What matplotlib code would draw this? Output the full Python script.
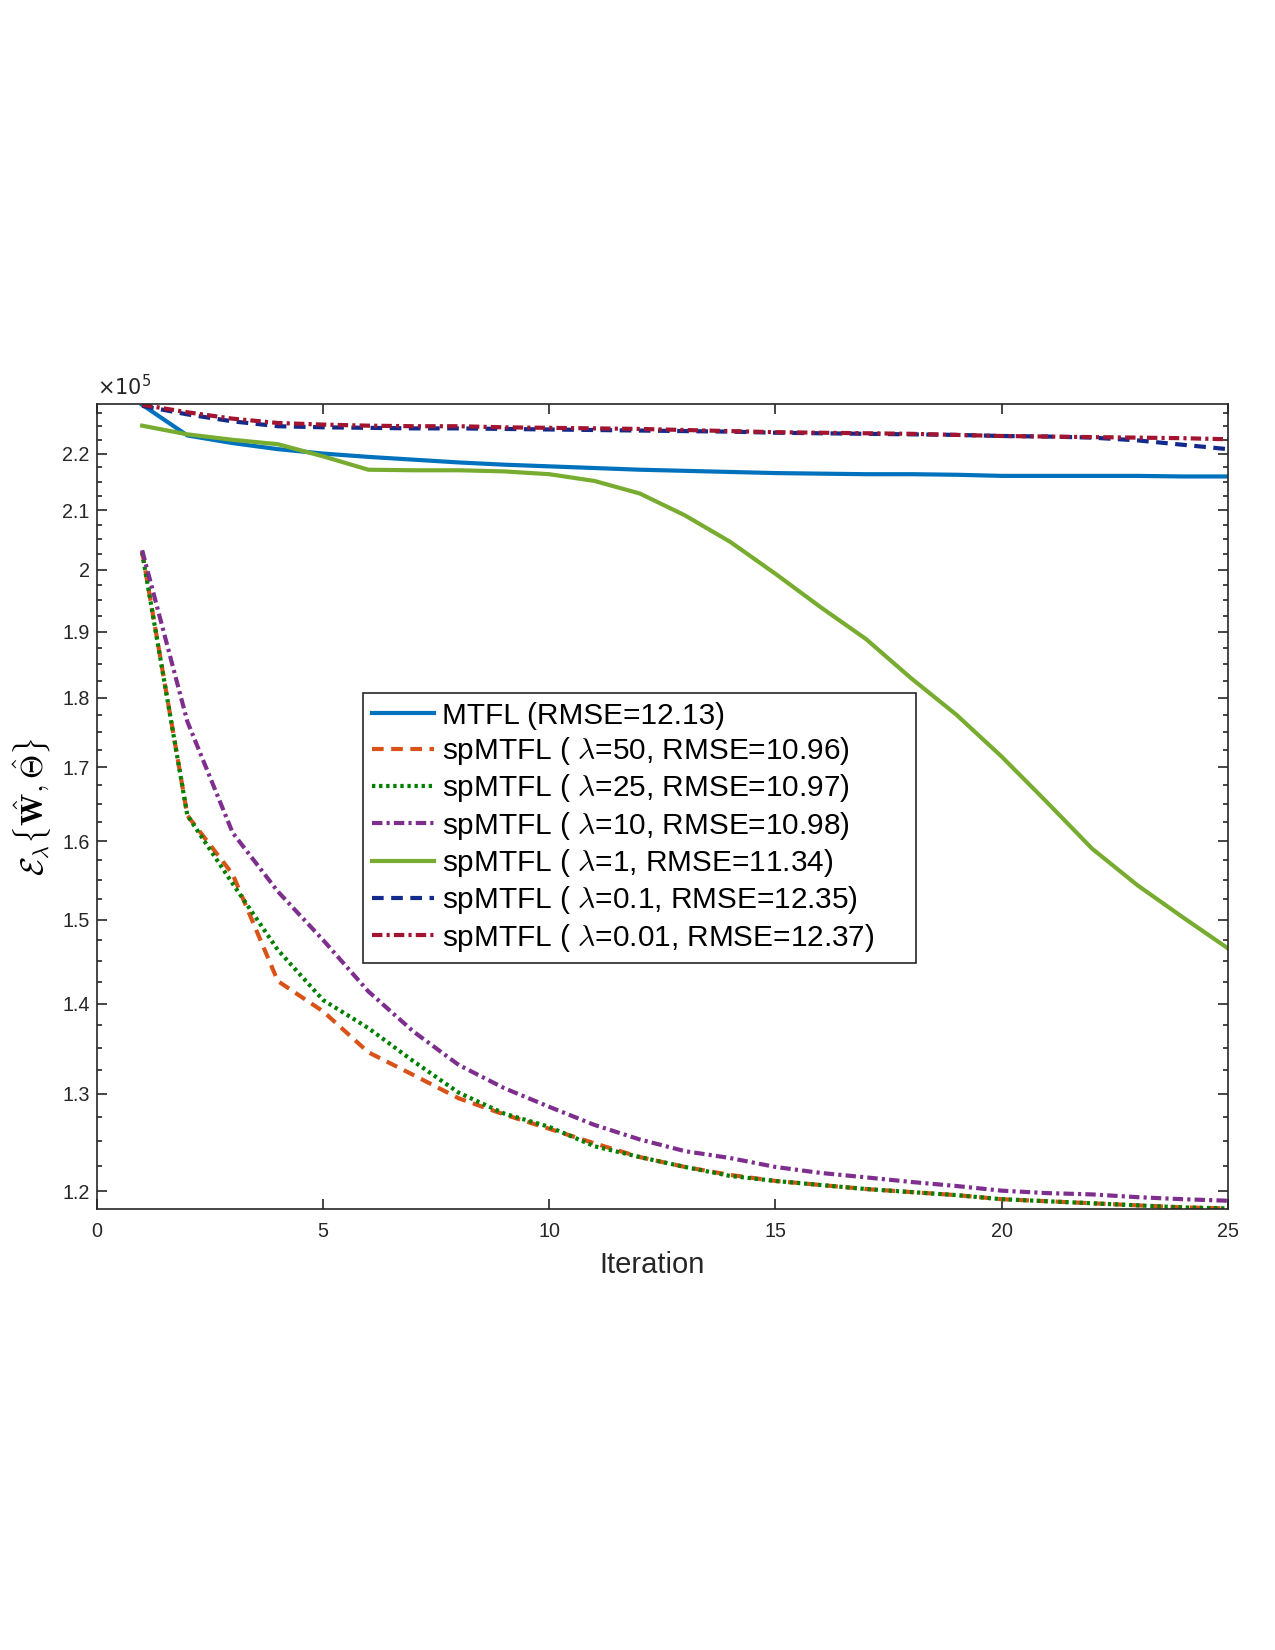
import numpy as np
import matplotlib
matplotlib.use("Agg")
import matplotlib.pyplot as plt
from matplotlib.ticker import FixedLocator, NullLocator, NullFormatter
from matplotlib.font_manager import FontProperties

plt.rcParams['font.family'] = ['Liberation Sans', 'DejaVu Sans']

# objective value per iteration, in units of 1e5
iters = np.arange(1, 26)

mtfl = [2.290, 2.233, 2.219, 2.208, 2.200, 2.194, 2.189, 2.184, 2.180, 2.177,
        2.174, 2.171, 2.169, 2.167, 2.165, 2.164, 2.163, 2.163, 2.162, 2.160,
        2.160, 2.160, 2.160, 2.159, 2.159]
lam50 = [2.030, 1.634, 1.557, 1.426, 1.391, 1.345, 1.320, 1.295, 1.278, 1.263,
         1.248, 1.234, 1.224, 1.216, 1.210, 1.206, 1.202, 1.199, 1.196, 1.192,
         1.190, 1.188, 1.186, 1.184, 1.183]
lam25 = [2.028, 1.634, 1.545, 1.463, 1.404, 1.372, 1.335, 1.301, 1.279, 1.265,
         1.245, 1.234, 1.224, 1.215, 1.210, 1.206, 1.202, 1.199, 1.196, 1.192,
         1.190, 1.188, 1.186, 1.184, 1.183]
lam10 = [2.032, 1.765, 1.611, 1.535, 1.475, 1.414, 1.368, 1.331, 1.306, 1.286,
         1.267, 1.252, 1.240, 1.233, 1.224, 1.218, 1.2136, 1.209, 1.205, 1.2004,
         1.198, 1.1967, 1.194, 1.192, 1.1905]
lam1 = [2.251, 2.235, 2.225, 2.217, 2.195, 2.171, 2.170, 2.170, 2.168, 2.163,
        2.151, 2.129, 2.091, 2.046, 1.993, 1.939, 1.889, 1.829, 1.775, 1.715,
        1.652, 1.590, 1.543, 1.503, 1.465]
lam01 = [2.288, 2.272, 2.259, 2.250, 2.248, 2.247, 2.246, 2.246, 2.245, 2.244,
         2.243, 2.242, 2.241, 2.240, 2.238, 2.237, 2.236, 2.235, 2.234, 2.232,
         2.231, 2.229, 2.224, 2.216, 2.208]
lam001 = [2.290, 2.276, 2.264, 2.256, 2.253, 2.251, 2.250, 2.250, 2.248, 2.247,
          2.246, 2.245, 2.243, 2.241, 2.239, 2.238, 2.237, 2.236, 2.234, 2.232,
          2.231, 2.230, 2.229, 2.228, 2.226]

labels = ['MTFL (RMSE=12.13)',
          r'spMTFL ( $\lambda$=50, RMSE=10.96)',
          r'spMTFL ( $\lambda$=25, RMSE=10.97)',
          r'spMTFL ( $\lambda$=10, RMSE=10.98)',
          r'spMTFL ( $\lambda$=1, RMSE=11.34)',
          r'spMTFL ( $\lambda$=0.1, RMSE=12.35)',
          r'spMTFL ( $\lambda$=0.01, RMSE=12.37)']

fig = plt.figure(figsize=(8.5, 11), dpi=150)
ax = fig.add_axes([0.076, 0.267, 0.887, 0.488])

lw = 2.0
ax.plot(iters, mtfl, color='#0072BD', lw=lw, label=labels[0])
ax.plot(iters, lam50, color='#D95319', lw=lw, dashes=(2.8, 1.8), label=labels[1])
ax.plot(iters, lam25, color='#008000', lw=lw, dashes=(0.8, 0.9), label=labels[2])
ax.plot(iters, lam10, color='#7E2F8E', lw=lw, dashes=(2.5, 1.0, 0.75, 1.0), label=labels[3])
ax.plot(iters, lam1, color='#77AC30', lw=lw, label=labels[4])
ax.plot(iters, lam01, color='#112A8C', lw=lw, dashes=(2.8, 1.8), label=labels[5])
ax.plot(iters, lam001, color='#A2142F', lw=lw, dashes=(2.5, 1.0, 0.75, 1.0), label=labels[6])

ax.set_yscale('log')
ax.set_xlim(0, 25)
ax.set_ylim(1.182, 2.291)

yt = [1.2, 1.3, 1.4, 1.5, 1.6, 1.7, 1.8, 1.9, 2.0, 2.1, 2.2]
ax.yaxis.set_major_locator(FixedLocator(yt))
ax.set_yticklabels(['1.2', '1.3', '1.4', '1.5', '1.6', '1.7', '1.8', '1.9', '2', '2.1', '2.2'])
ax.yaxis.set_minor_locator(FixedLocator(np.arange(1.2, 2.29, 0.025)))
ax.yaxis.set_minor_formatter(NullFormatter())
ax.set_xticks([0, 5, 10, 15, 20, 25])
ax.xaxis.set_minor_locator(NullLocator())

axc = '#262626'
for s in ax.spines.values():
    s.set_color(axc)
    s.set_linewidth(0.8)
ax.tick_params(which='both', direction='in', top=True, right=True, colors=axc,
               labelcolor='#262626', labelsize=9.5, width=0.8)
ax.tick_params(which='major', length=5)
ax.tick_params(which='minor', length=2.5)
ax.tick_params(axis='x', pad=6)

ax.set_xlabel('Iteration', fontsize=14, color='#262626', labelpad=4)
ax.xaxis.set_label_coords(0.491, -0.052)
ax.set_ylabel(r'$\mathcal{E}_\lambda\{\hat{\mathbf{W}},\hat{\boldsymbol{\Theta}}\}$',
              fontsize=15, math_fontfamily='cm', labelpad=4)
ax.text(0.0, 1.006, r'$\times10^{5}$', transform=ax.transAxes, fontsize=10,
        color='#262626', ha='left', va='bottom')

legfont = FontProperties(family=['Liberation Sans', 'DejaVu Sans'], size=14.3,
                         math_fontfamily='cm')
leg = ax.legend(loc='upper left', bbox_to_anchor=(0.2847, 0.30, 0.434, 0.2802),
                bbox_transform=fig.transFigure, mode='expand', prop=legfont,
                frameon=True, fancybox=False, framealpha=1, edgecolor='#262626',
                handlelength=2.1, handletextpad=0.26, labelspacing=0.18,
                borderpad=0.3, borderaxespad=0)
leg.get_frame().set_linewidth(0.8)

fig.savefig('out.png', dpi=150)
